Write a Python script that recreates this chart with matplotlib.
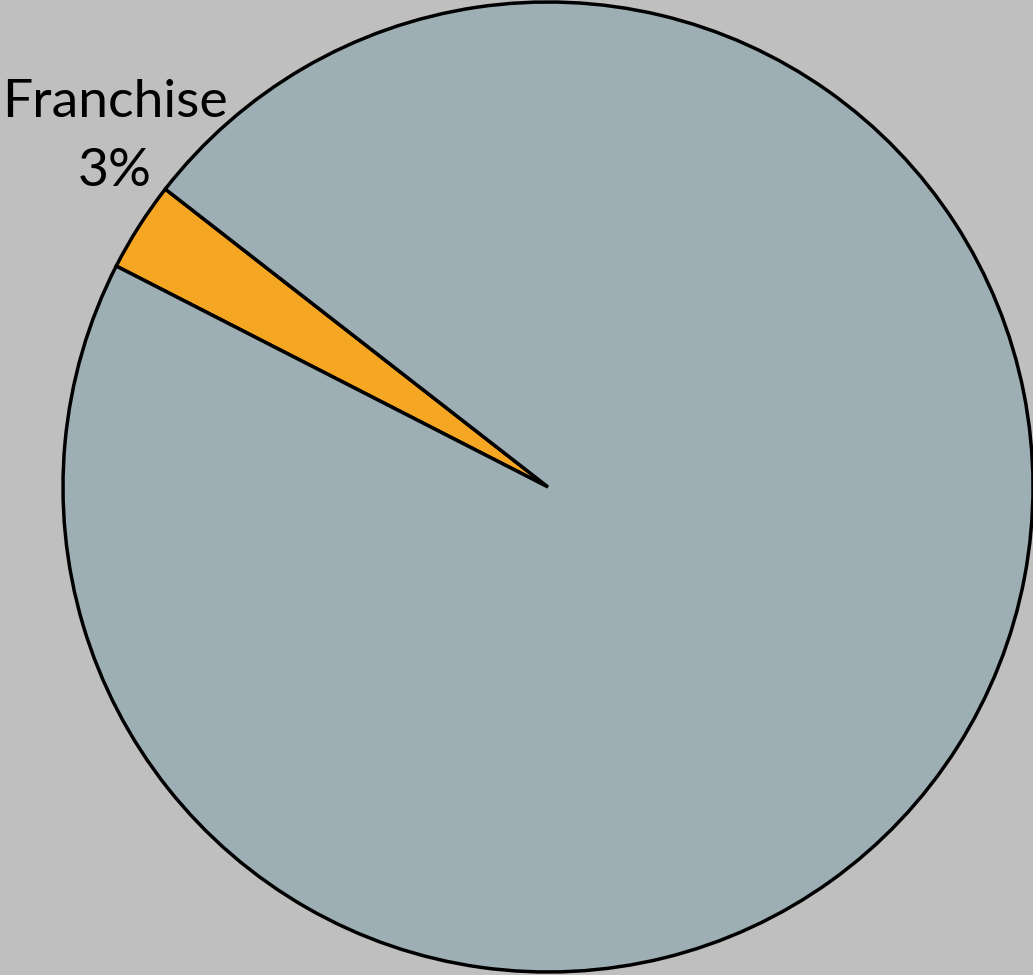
import matplotlib
matplotlib.use("Agg")
from matplotlib import pyplot as plt

categories = ["Franchise", "Other"]
shares = [3, 97]
colors = ["#F5A623", "#9DAFB5"]
shown = ["Franchise"]

W, H = 1033, 975
fig = plt.figure(figsize=(W / 100, H / 100), dpi=100, facecolor="#BFBFBF")
ax = fig.add_axes([0, 0, 1, 1])
ax.set_facecolor("#BFBFBF")

cx, cy, r = 548, H - 487, 485
ax.pie(shares, colors=colors, startangle=142.1, counterclock=True,
       center=(cx, cy), radius=r, frame=True,
       wedgeprops=dict(edgecolor="black", linewidth=2.5))
ax.set_xlim(0, W)
ax.set_ylim(0, H)
ax.set_aspect("equal")
ax.axis("off")

# label sits outside the small slice, name above the percentage
for name, share in zip(categories, shares):
    if name not in shown:
        continue
    ax.text(115, H - 117, name, ha="center", va="baseline",
            fontsize=38.5, family="Lato", color="black")
    ax.text(115, H - 186, f"{share}%", ha="center", va="baseline",
            fontsize=38.5, family="Lato", color="black")

fig.savefig("out.png", dpi=100, facecolor=fig.get_facecolor())
